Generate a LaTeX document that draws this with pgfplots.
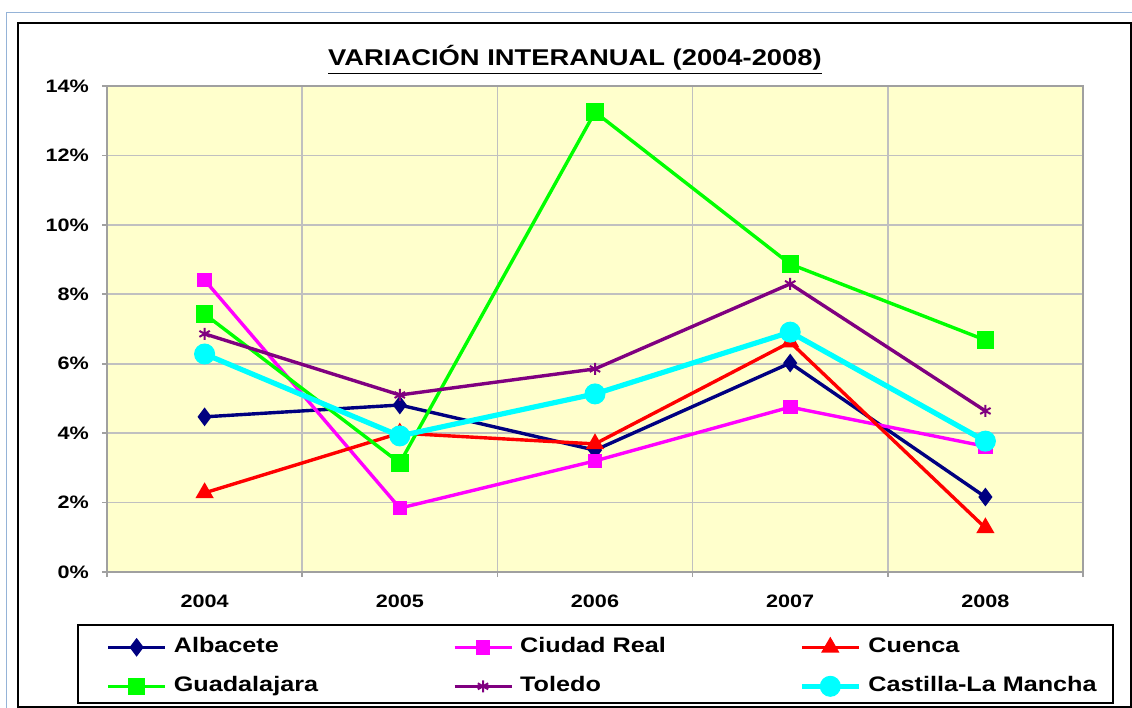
\documentclass[border=0pt]{standalone}
\usepackage{fontspec}
\setmainfont{Liberation Sans}[FakeStretch=1.2]
\usepackage{pgfplots}
\pgfplotsset{compat=1.18}
\definecolor{lblue}{HTML}{95B3D7}
\definecolor{bgyellow}{HTML}{FFFFCC}
\definecolor{gridgray}{HTML}{C0C0C0}
\definecolor{axgray}{HTML}{A0A0A0}
\definecolor{cAlb}{HTML}{000080}
\definecolor{cCR}{HTML}{FF00FF}
\definecolor{cCue}{HTML}{FF0000}
\definecolor{cGua}{HTML}{00FF00}
\definecolor{cTol}{HTML}{800080}
\definecolor{cCLM}{HTML}{00FFFF}
\begin{document}
\begin{tikzpicture}[x=1pt,y=1pt]
\useasboundingbox (0,0) rectangle (566,354);
\draw[color=lblue, line width=0.6pt] (3.25,-2) -- (3.25,347.75) -- (570,347.75);
\draw[black, line width=1pt] (8.75,0.5) rectangle (565.25,342.5);
\draw[black, line width=1pt] (39,2.5) rectangle (556.5,41.5);
\node[font=\bfseries\fontsize{11.4}{13}\selectfont, anchor=base] at (287.5,321) {\underline{VARIACIÓN INTERANUAL (2004-2008)}};
\begin{axis}[
  at={(53.5pt,68pt)}, anchor=south west, scale only axis,
  width=488pt, height=243pt,
  xmin=-0.5, xmax=4.5, ymin=0, ymax=14,
  xtick={-0.5,0.5,1.5,2.5,3.5,4.5}, xticklabels={},
  extra x ticks={0,1,2,3,4},
  extra x tick labels={2004,2005,2006,2007,2008},
  extra x tick style={grid=none, major tick length=0pt, xticklabel style={yshift=-8pt}},
  ytick={0,2,4,6,8,10,12,14},
  yticklabels={0\%,2\%,4\%,6\%,8\%,10\%,12\%,14\%},
  yticklabel style={xshift=-3pt},
  grid=major, major grid style={color=gridgray, line width=0.8pt},
  tick align=outside, tick pos=left, major tick length=2.5pt,
  tick style={color=axgray, line width=0.8pt},
  axis line style={color=axgray, line width=1pt},
  axis background/.style={fill=bgyellow},
  tick label style={font=\bfseries\fontsize{9}{11}\selectfont},
  clip=false,
  legend columns=3,
  legend cell align=left,
  legend style={at={(-0.001,-0.114)}, anchor=north west,
    draw=none, fill=none,
    font=\bfseries\fontsize{10.5}{12}\selectfont,
    inner xsep=0pt, inner ysep=0pt,
    nodes={text height=8pt, text depth=2.5pt, inner ysep=4.5pt, inner xsep=3.5pt},
    /tikz/every even column/.append style={column sep=0pt}},
  legend image code/.code={%
    \draw[mark repeat=2,mark phase=2,#1] plot coordinates {(0pt,0pt) (14.25pt,0pt) (28.5pt,0pt)};},
]
\addplot[color=cAlb, line width=1.7pt, mark=diamond*, mark size=3.3pt, mark options={solid, fill=cAlb}]
  coordinates {(0,4.47) (1,4.81) (2,3.51) (3,6.02) (4,2.16)};
\addlegendentry{\makebox[136pt][l]{Albacete}}
\addplot[color=cCR, line width=1.7pt, mark=square*, mark size=2.8pt, mark options={solid, fill=cCR}]
  coordinates {(0,8.41) (1,1.84) (2,3.20) (3,4.75) (4,3.62)};
\addlegendentry{\makebox[136pt][l]{Ciudad Real}}
\addplot[color=cCue, line width=1.7pt, mark=triangle*, mark size=3.6pt, mark options={solid, fill=cCue}]
  coordinates {(0,2.28) (1,4.00) (2,3.69) (3,6.62) (4,1.27)};
\addlegendentry{\makebox[115pt][l]{Cuenca}}
\addplot[color=cGua, line width=1.7pt, mark=square*, mark size=3.5pt, mark options={solid, fill=cGua}]
  coordinates {(0,7.43) (1,3.14) (2,13.25) (3,8.87) (4,6.68)};
\addlegendentry{\makebox[136pt][l]{Guadalajara}}
\addplot[color=cTol, line width=1.7pt, mark=asterisk, mark size=3pt, mark options={solid, line width=1pt}]
  coordinates {(0,6.86) (1,5.10) (2,5.85) (3,8.30) (4,4.64)};
\addlegendentry{\makebox[136pt][l]{Toledo}}
\addplot[color=cCLM, line width=2.6pt, mark=*, mark size=5pt, mark options={solid, fill=cCLM, draw=cCLM, line width=0.5pt}]
  coordinates {(0,6.28) (1,3.92) (2,5.13) (3,6.91) (4,3.77)};
\addlegendentry{\makebox[115pt][l]{Castilla-La Mancha}}
\end{axis}
\end{tikzpicture}
\end{document}
